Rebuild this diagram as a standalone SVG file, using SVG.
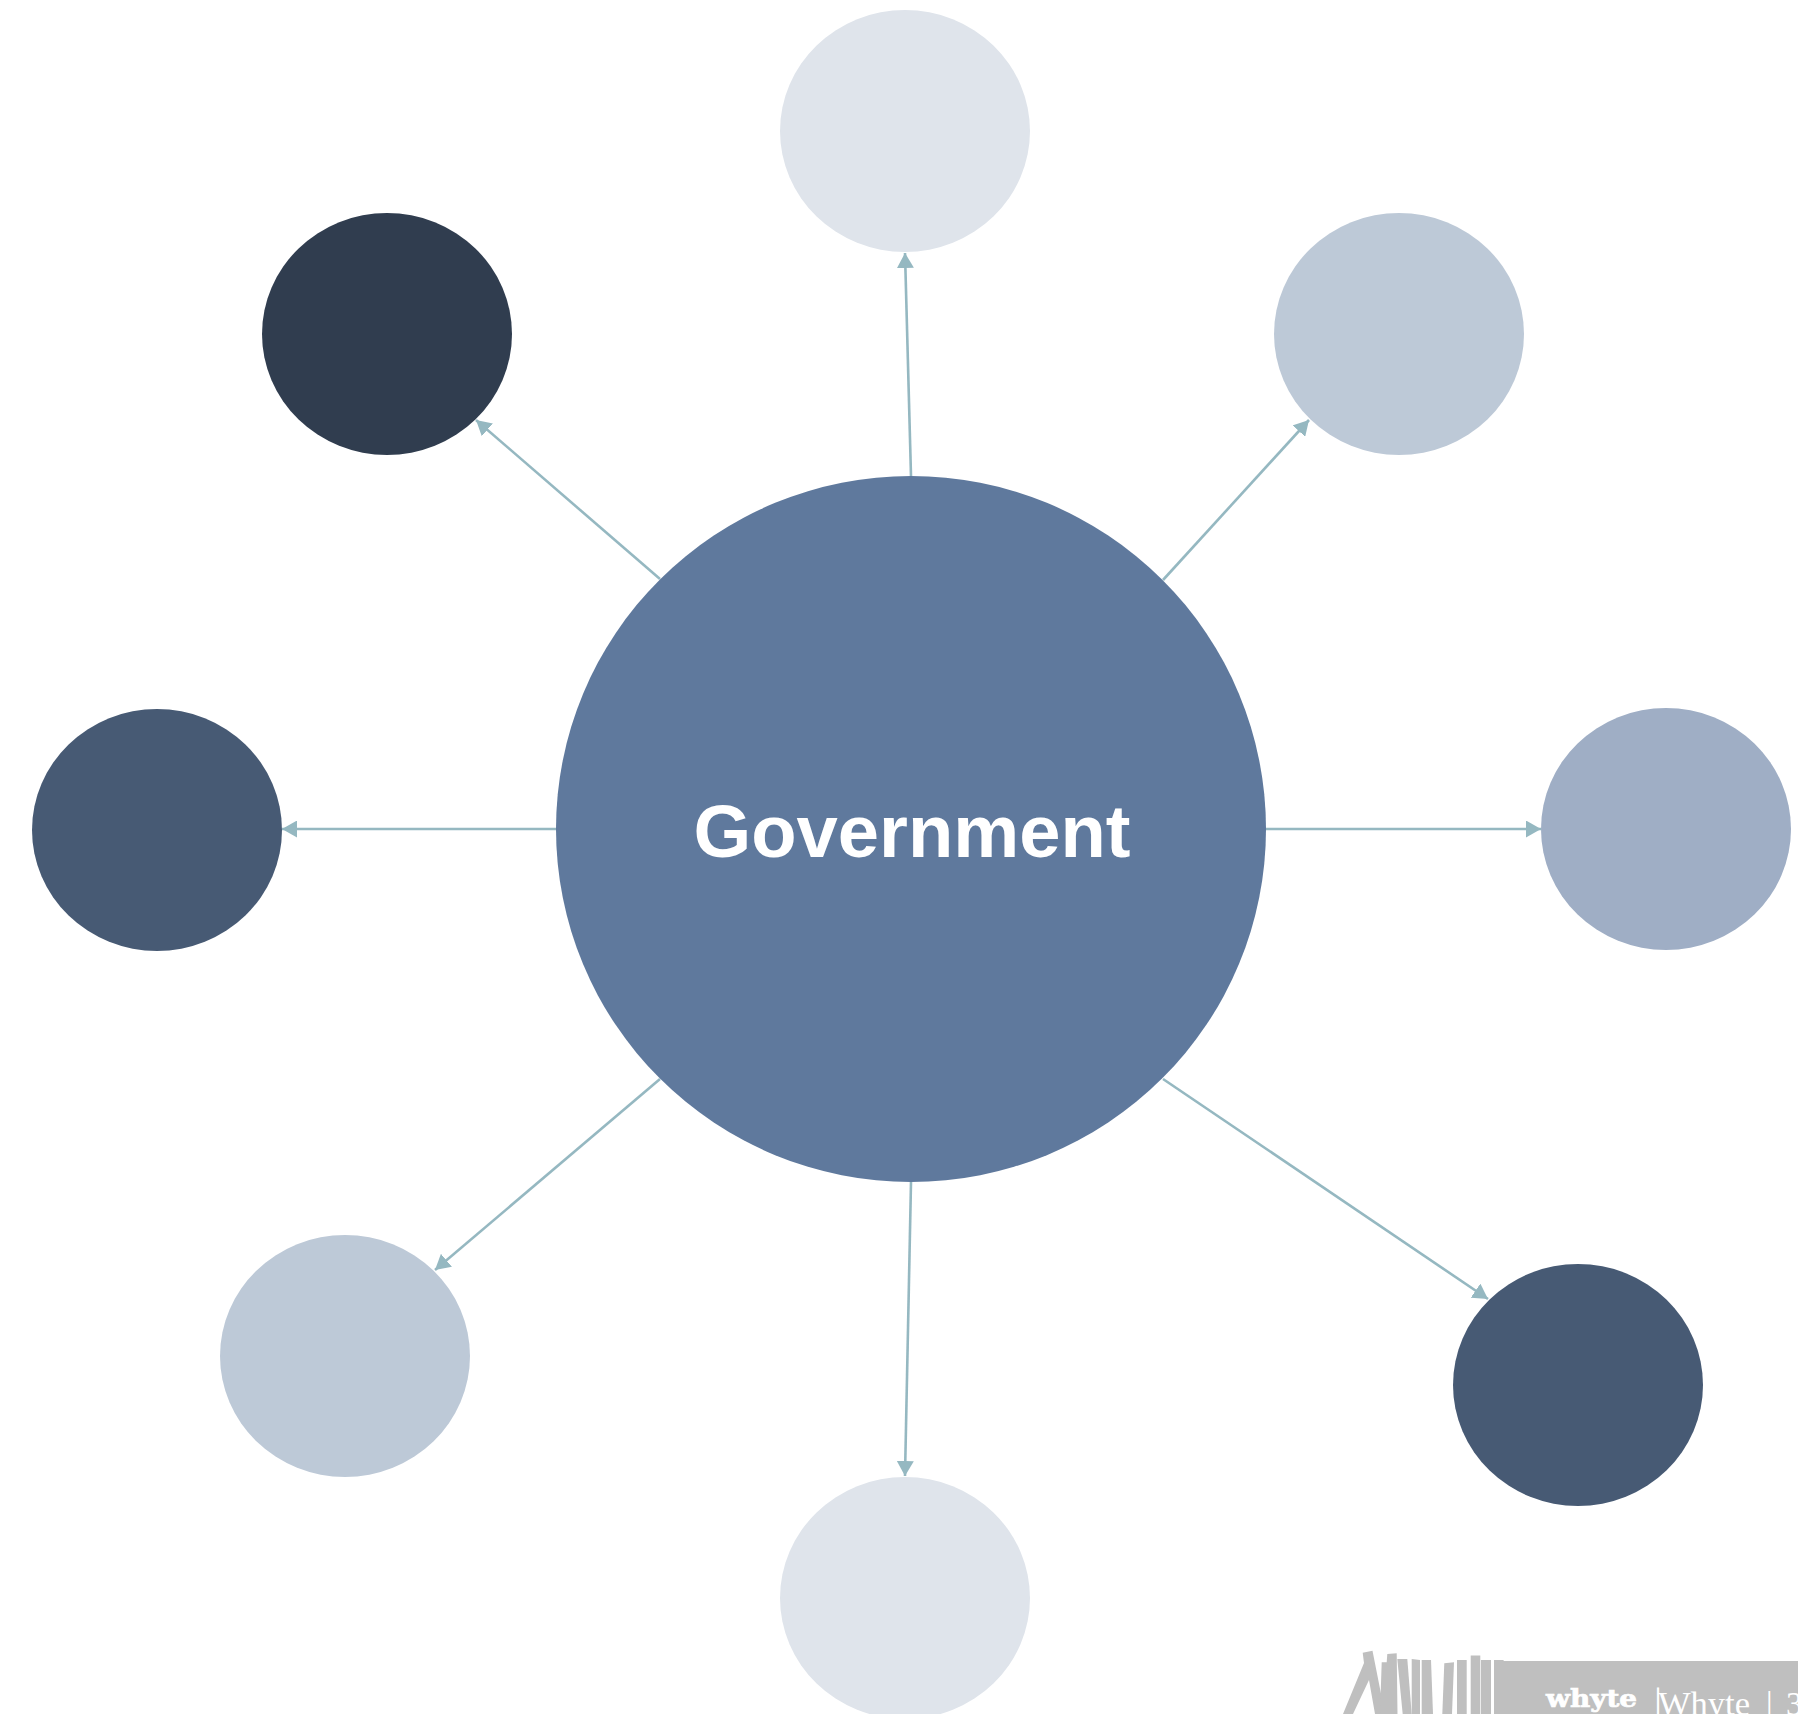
<svg xmlns="http://www.w3.org/2000/svg" width="1798" height="1714" viewBox="0 0 1798 1714">
<style>
.c{fill:none;stroke:#95B8C1;stroke-width:2.6;marker-end:url(#a)}
.b{fill:#BFBFBF}
</style>
<defs><marker id="a" markerUnits="userSpaceOnUse" markerWidth="15" markerHeight="17" refX="15" refY="8.5" orient="auto" viewBox="0 0 15 17"><path d="M0 0L15 8.5L0 17Z" fill="#95B8C1"/></marker></defs>
<rect width="1798" height="1714" fill="#fff"/>
<g id="node-top"><ellipse cx="905" cy="131" rx="125" ry="121" fill="#DFE4EB"/></g>
<g id="node-upper-left"><ellipse cx="387" cy="334" rx="125" ry="121" fill="#303D4F"/></g>
<g id="node-upper-right"><ellipse cx="1399" cy="334" rx="125" ry="121" fill="#BDC9D7"/></g>
<g id="node-left"><ellipse cx="157" cy="830" rx="125" ry="121" fill="#475A74"/></g>
<g id="node-right"><ellipse cx="1666" cy="829" rx="125" ry="121" fill="#9FAEC5"/></g>
<g id="node-lower-left"><ellipse cx="345" cy="1356" rx="125" ry="121" fill="#BDC9D7"/></g>
<g id="node-lower-right"><ellipse cx="1578" cy="1385" rx="125" ry="121" fill="#475A74"/></g>
<g id="node-bottom"><ellipse cx="905" cy="1598" rx="125" ry="121" fill="#DFE4EB"/></g>
<g id="node-center"><ellipse cx="911" cy="829" rx="355" ry="353" fill="#5F799D"/>
<text x="912" y="857" text-anchor="middle" font-family="Liberation Sans, Arial, sans-serif" font-weight="700" font-size="74.2" fill="#fff">Government</text></g>
<g id="connectors">
<line class="c" x1="911" y1="476" x2="905" y2="253"/>
<line class="c" x1="660" y1="579" x2="476" y2="420"/>
<line class="c" x1="1163" y1="580" x2="1309" y2="420"/>
<line class="c" x1="1266" y1="829" x2="1541" y2="829"/>
<line class="c" x1="556" y1="829" x2="282" y2="829"/>
<line class="c" x1="660" y1="1079" x2="435" y2="1270"/>
<line class="c" x1="1163" y1="1079" x2="1488" y2="1299"/>
<line class="c" x1="911" y1="1182" x2="905" y2="1476"/>
</g>
<g id="footer">
<rect class="b" x="1494" y="1661" width="304" height="53"/>
<path class="b" d="M1364 1663L1343 1714H1353L1369 1680L1375 1714H1385L1372.5 1650.7L1362.7 1652.7Z"/>
<path class="b" d="M1380 1714L1381.7 1662.3H1386.7L1387.3 1654L1396.7 1653.3L1397.5 1714Z"/>
<path class="b" d="M1397.3 1659L1407.3 1659L1411.7 1714H1402.7Z"/>
<path class="b" d="M1411.7 1659L1420 1660V1714H1411.7Z"/>
<path class="b" d="M1421.7 1660H1431L1433 1714H1421.7Z"/>
<path class="b" d="M1444.3 1663.3L1454 1662.3L1452 1714H1442.3Z"/>
<path class="b" d="M1457 1660H1466.7V1714H1457Z"/>
<path class="b" d="M1470.7 1655.5H1480.3V1714H1470.7Z"/>
<path class="b" d="M1481 1660H1491V1714H1481Z"/>
<path class="b" d="M1494 1660H1503.5L1504 1662.3H1510V1664H1494Z"/>
<text x="1546" y="1707" font-family="DejaVu Serif, serif" font-weight="700" font-size="24" textLength="91" lengthAdjust="spacingAndGlyphs" fill="#fff" stroke="#fff" stroke-width="0.7">whyte</text>
<text y="1714.5" font-family="Liberation Serif, serif" font-size="33" fill="#fff"><tspan x="1654" font-size="40">|</tspan><tspan x="1658" textLength="92" lengthAdjust="spacingAndGlyphs">Whyte</tspan><tspan x="1766">|</tspan><tspan x="1786">3</tspan></text>
</g>
</svg>
